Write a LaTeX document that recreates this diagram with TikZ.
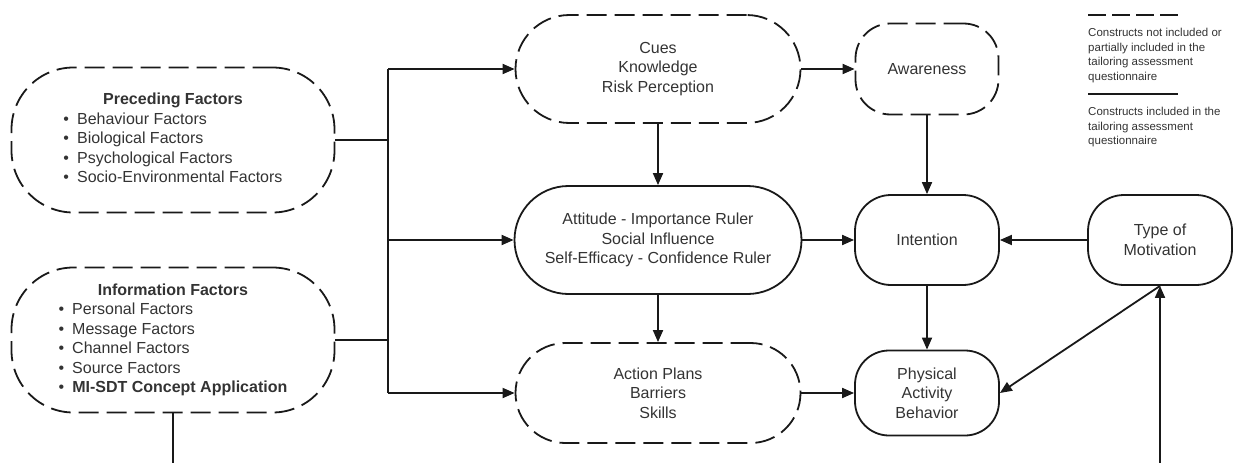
\documentclass[tikz,border=0pt]{standalone}
\usepackage{fontspec}
\setmainfont{Liberation Sans}
\usetikzlibrary{arrows.meta}

\begin{document}
\begin{tikzpicture}[
    x=1pt, y=-1pt,
    font=\fontsize{16}{19.5}\selectfont,
    box/.style={draw=black!90, line width=1.8pt, align=center, inner sep=0pt, text=black!80},
    partbox/.style={box, dash pattern=on 20pt off 8pt},
    link/.style={line width=1.8pt, black!90},
    arr/.style={link, -{Triangle[length=12pt,width=10pt]}},
    keytext/.style={font=\fontsize{11.5}{14.5}\selectfont, align=left, anchor=north west, inner sep=0pt, text=black!80}
]
    \useasboundingbox (0,0) rectangle (1237,463);

    % Factor groups (left)
    \node[partbox, minimum width=323pt, minimum height=145pt, rounded corners=62pt] (pre) at (173,140) {%
        \begin{tabular}{@{}l@{}}
        \multicolumn{1}{@{}c@{}}{\bfseries Preceding Factors}\\
        \textbullet\hspace{8pt}Behaviour Factors\\
        \textbullet\hspace{8pt}Biological Factors\\
        \textbullet\hspace{8pt}Psychological Factors\\
        \textbullet\hspace{8pt}Socio-Environmental Factors
        \end{tabular}};
    \node[partbox, minimum width=323pt, minimum height=145pt, rounded corners=62pt] (info) at (173,340) {%
        \begin{tabular}{@{}l@{}}
        \multicolumn{1}{@{}c@{}}{\bfseries Information Factors}\\
        \textbullet\hspace{8pt}Personal Factors\\
        \textbullet\hspace{8pt}Message Factors\\
        \textbullet\hspace{8pt}Channel Factors\\
        \textbullet\hspace{8pt}Source Factors\\
        \textbullet\hspace{8pt}\bfseries MI-SDT Concept Application
        \end{tabular}};

    % Middle column
    \node[partbox, minimum width=285pt, minimum height=108pt, rounded corners=54pt] (cues) at (658,69) {Cues\\Knowledge\\Risk Perception};
    \node[box, minimum width=287pt, minimum height=108pt, rounded corners=54pt] (att) at (658,240) {Attitude - Importance Ruler\\Social Influence\\Self-Efficacy - Confidence Ruler};
    \node[partbox, minimum width=285pt, minimum height=100pt, rounded corners=50pt] (act) at (658,393) {Action Plans\\Barriers\\Skills};

    % Right columns
    \node[partbox, minimum width=143pt, minimum height=91pt, rounded corners=35pt] (aware) at (927,69) {Awareness};
    \node[box, minimum width=144pt, minimum height=90pt, rounded corners=36pt] (intent) at (927,240) {Intention};
    \node[box, minimum width=144pt, minimum height=85pt, rounded corners=34pt] (pab) at (927,393) {Physical\\Activity\\Behavior};
    \node[box, minimum width=144pt, minimum height=90pt, rounded corners=36pt] (mot) at (1160,240) {Type of\\Motivation};

    % Trunk
    \coordinate (trunk) at (388,0);
    \coordinate (edge) at (0,463);
    \draw[link] (pre.east) -- (pre.east -| trunk);
    \draw[link] (info.east) -- (info.east -| trunk);
    \draw[link] (trunk |- cues.west) -- (trunk |- act.west);
    \draw[arr] (trunk |- cues.west) -- (cues.west);
    \draw[arr] (trunk |- att.west) -- (att.west);
    \draw[arr] (trunk |- act.west) -- (act.west);

    % Paths
    \draw[arr] (cues.east) -- (aware.west);
    \draw[arr] (cues.south) -- (att.north);
    \draw[arr] (att.south) -- (act.north);
    \draw[arr] (att.east) -- (intent.west);
    \draw[arr] (act.east) -- (pab.west);
    \draw[arr] (aware.south) -- (intent.north);
    \draw[arr] (intent.south) -- (pab.north);
    \draw[arr] (mot.west) -- (intent.east);
    \draw[arr] (mot.south) -- (pab.east);
    \draw[link] (info.south) -- (info.south |- edge);
    \draw[arr] (mot.south |- edge) -- (mot.south);

    % Key
    \draw[link, dash pattern=on 18pt off 6pt] (1088,15) -- (1178,15);
    \node[keytext] (keypart) at (1088,28) {Constructs not included or\\partially included in the\\tailoring assessment\\questionnaire};
    \draw[link] (1088,94) -- (1178,94);
    \node[keytext] (keyfull) at (1088,107) {Constructs included in the\\tailoring assessment\\questionnaire};
\end{tikzpicture}
\end{document}
